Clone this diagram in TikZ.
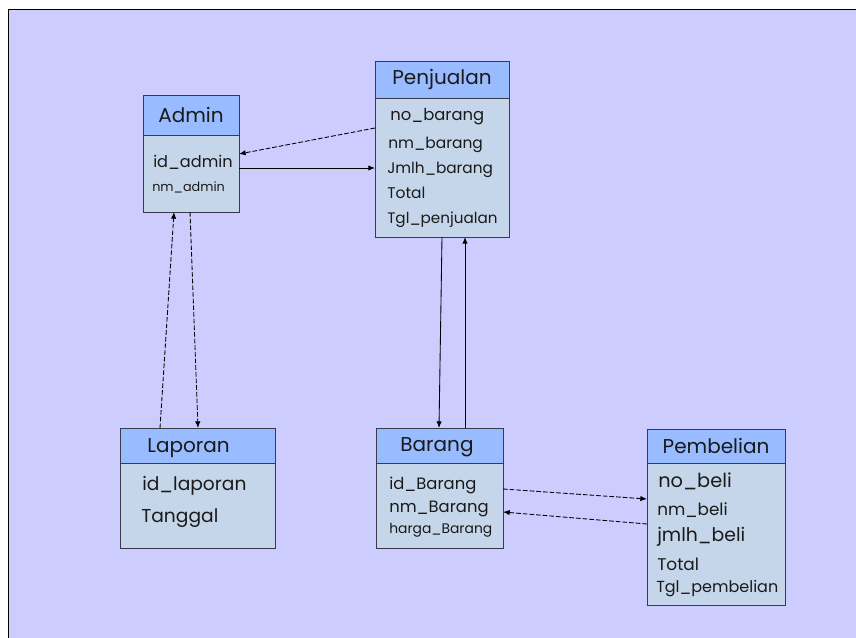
\documentclass[tikz,border=0pt]{standalone}
\usepackage{fontspec}
\setmainfont{Poppins}
\usetikzlibrary{arrows.meta}
\definecolor{bgc}{HTML}{CCCCFF}
\definecolor{hdrc}{HTML}{99BBFF}
\definecolor{bodyc}{HTML}{C5D6EA}
\definecolor{edgec}{HTML}{3A3A48}
\definecolor{txtc}{HTML}{1A1A1A}
\begin{document}
\begin{tikzpicture}[x=0.75pt,y=-0.75pt,
  hdr/.style={draw=edgec,fill=hdrc,line width=0.7pt,inner sep=0pt,outer sep=0pt},
  bodybox/.style={draw=edgec,fill=bodyc,line width=0.7pt,inner sep=0pt,outer sep=0pt},
  ttl/.style={text=txtc,inner sep=0pt,text height=0.7em,text depth=0pt,font=\fontsize{15}{17}\selectfont},
  fld/.style={text=txtc,anchor=west,inner sep=0pt,text height=0.7em,text depth=0pt},
  conn/.style={draw=black,line width=0.65pt,-{Latex[length=5pt,width=4pt]}},
  dconn/.style={conn,dash pattern=on 3.5pt off 1.5pt}]
\useasboundingbox (0,0) rectangle (856,638);
\fill[white] (0,0) rectangle (856,638);
\fill[bgc] (9,10) rectangle (856,638);
\draw[black,line width=1.2pt] (8.5,638) -- (8.5,9.5) -- (856,9.5);

% Admin
\node[hdr,minimum width=72pt,minimum height=30pt] (adminh) at (191,115) {};
\node[bodybox,minimum width=72pt,minimum height=57.75pt] (adminb) at (191,173.5) {};
\node[ttl] (admint) at (191,118) {Admin};
\node[fld,font=\fontsize{12.1}{14}\selectfont] (f1) at (153,163) {id\_admin};
\node[fld,font=\fontsize{9.6}{11}\selectfont] (f2) at (152,187) {nm\_admin};

% Penjualan
\node[hdr,minimum width=100.5pt,minimum height=27.75pt] (penjh) at (442,79.5) {};
\node[bodybox,minimum width=100.5pt,minimum height=104.25pt] (penjb) at (442,167.5) {};
\node[ttl] (penjt) at (442,80) {Penjualan};
\node[fld,font=\fontsize{12.3}{14}\selectfont] (f3) at (390,116) {no\_barang};
\node[fld,font=\fontsize{11.6}{13}\selectfont] (f4) at (388,144) {nm\_barang};
\node[fld,font=\fontsize{11.5}{13}\selectfont] (f5) at (387,169) {Jmlh\_barang};
\node[fld,font=\fontsize{11.6}{13}\selectfont] (f6) at (387,194) {Total};
\node[fld,font=\fontsize{11.4}{13}\selectfont] (f7) at (387,219) {Tgl\_penjualan};

% Laporan
\node[hdr,minimum width=116.25pt,minimum height=26.25pt] (laph) at (197.5,445.5) {};
\node[bodybox,minimum width=116.25pt,minimum height=63.75pt] (lapb) at (197.5,505.5) {};
\node[ttl] (lapt) at (188.5,448) {Laporan};
\node[fld,font=\fontsize{14}{16}\selectfont] (f8) at (142,486) {id\_laporan};
\node[fld,font=\fontsize{14}{16}\selectfont] (f9) at (141,518) {Tanggal};

% Barang
\node[hdr,minimum width=95.25pt,minimum height=26.25pt] (barh) at (439.5,445.5) {};
\node[bodybox,minimum width=95.25pt,minimum height=63.75pt] (barb) at (439.5,505.5) {};
\node[ttl] (bart) at (437,447) {Barang};
\node[fld,font=\fontsize{12.3}{14}\selectfont] (f10) at (389,485) {id\_Barang};
\node[fld,font=\fontsize{12.3}{14}\selectfont] (f11) at (389,508) {nm\_Barang};
\node[fld,font=\fontsize{10.4}{12}\selectfont] (f12) at (389,529) {harga\_Barang};

% Pembelian
\node[hdr,minimum width=103.5pt,minimum height=25.5pt] (pembh) at (716,446) {};
\node[bodybox,minimum width=103.5pt,minimum height=106.5pt] (pembb) at (716,534) {};
\node[ttl] (pembt) at (716,449) {Pembelian};
\node[fld,font=\fontsize{14.5}{16}\selectfont] (f13) at (658,483) {no\_beli};
\node[fld,font=\fontsize{12.6}{14}\selectfont] (f14) at (657,511) {nm\_beli};
\node[fld,font=\fontsize{14.1}{16}\selectfont] (f15) at (657,537) {jmlh\_beli};
\node[fld,font=\fontsize{12.7}{14}\selectfont] (f16) at (657,566) {Total};
\node[fld,font=\fontsize{12}{14}\selectfont] (f17) at (656,588) {Tgl\_pembelian};

% connectors
\draw[dconn] (penjb.west |- 0,128) -- (adminb.east |- 0,154);
\draw[conn] (adminb.east |- 0,168) -- (penjb.west |- 0,168);
\draw[dconn] (laph.north -| 160,0) -- (adminb.south -| 174,0);
\draw[dconn] (adminb.south -| 190,0) -- (laph.north -| 198,0);
\draw[conn] (penjb.south -| 442,0) -- (barh.north -| 439,0);
\draw[conn] (barh.north -| 465,0) -- (penjb.south -| 465,0);
\draw[dconn] (barb.east |- 0,489) -- (pembb.west |- 0,499);
\draw[dconn] (pembb.west |- 0,524) -- (barb.east |- 0,512);
\end{tikzpicture}
\end{document}
